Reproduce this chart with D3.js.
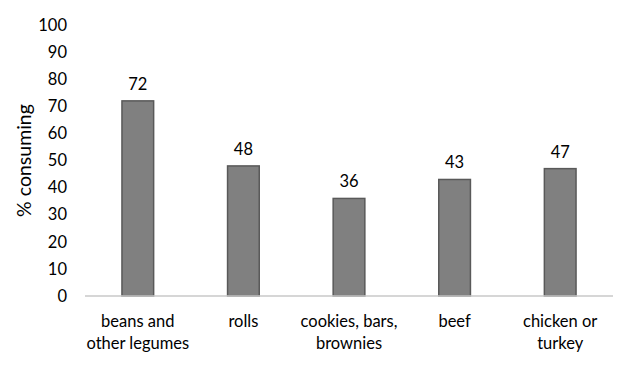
<!DOCTYPE html>
<html>
<head>
<meta charset="utf-8">
<script src="https://cdn.jsdelivr.net/npm/d3@7"></script>
<style>
  body { margin: 0; background: #fff; }
  text { font-family: Lato, "Open Sans", sans-serif; fill: #000; }
</style>
</head>
<body>
<svg id="chart"></svg>
<script>
const categories = [
    ['beans and', 'other legumes'],
    ['rolls'],
    ['cookies, bars,', 'brownies'],
    ['beef'],
    ['chicken or', 'turkey']
];
const values = [72, 48, 36, 43, 47];
const yTicks = [0, 10, 20, 30, 40, 50, 60, 70, 80, 90, 100];
const yLabel = '% consuming';

const width = 624, height = 370;
const margin = { top: 25, right: 11, bottom: 74, left: 85 };
const inner_width = width - margin.left - margin.right;
const inner_height = height - margin.top - margin.bottom;

const svg = d3.select('#chart')
    .attr('width', width)
    .attr('height', height);

const chart = svg.append('g')
    .attr('transform', `translate(${margin.left}, ${margin.top})`);

const xscale = d3.scaleBand()
    .domain(d3.range(values.length))
    .range([0, inner_width])
    .paddingInner(0.7)
    .paddingOuter(0.35);

const yscale = d3.scaleLinear()
    .domain([0, 100])
    .range([inner_height, 0]);

// y tick labels only, no axis line
const yaxis = d3.axisLeft(yscale)
    .tickValues(yTicks)
    .tickSize(0)
    .tickPadding(18);

const yaxis_group = chart.append('g').call(yaxis);
yaxis_group.select('.domain').remove();
yaxis_group.selectAll('text')
    .style('font-size', '16.5px')
    .style('font-family', 'Lato, "Open Sans", sans-serif')
    .attr('fill', '#000');

// bars
chart.selectAll('rect.bar')
    .data(values)
    .enter()
    .append('rect')
    .attr('class', 'bar')
    .attr('x', (d, i) => xscale(i))
    .attr('y', d => yscale(d))
    .attr('width', xscale.bandwidth())
    .attr('height', d => inner_height - yscale(d))
    .attr('fill', '#808080')
    .attr('stroke', '#595959')
    .attr('stroke-width', 1.5);

// baseline
chart.append('line')
    .attr('x1', 0)
    .attr('x2', inner_width)
    .attr('y1', inner_height)
    .attr('y2', inner_height)
    .attr('stroke', '#c8c8c8')
    .attr('stroke-width', 1.5);

// value labels
chart.selectAll('text.value')
    .data(values)
    .enter()
    .append('text')
    .attr('class', 'value')
    .attr('x', (d, i) => xscale(i) + xscale.bandwidth() / 2)
    .attr('y', d => yscale(d) - 11)
    .attr('text-anchor', 'middle')
    .style('font-size', '16.5px')
    .text(d => d);

// category labels
const cat = chart.selectAll('text.cat')
    .data(categories)
    .enter()
    .append('text')
    .attr('class', 'cat')
    .attr('text-anchor', 'middle')
    .attr('transform', (d, i) => `translate(${xscale(i) + xscale.bandwidth() / 2}, ${inner_height + 31})`)
    .style('font-size', '16.5px');

cat.selectAll('tspan')
    .data(d => d)
    .enter()
    .append('tspan')
    .attr('x', 0)
    .attr('y', (d, i) => i * 22)
    .text(d => d);

// y label
svg.append('text')
    .attr('transform', `translate(31, ${margin.top + inner_height / 2}) rotate(-90)`)
    .attr('text-anchor', 'middle')
    .style('font-size', '19.5px')
    .text(yLabel);
</script>
</body>
</html>
